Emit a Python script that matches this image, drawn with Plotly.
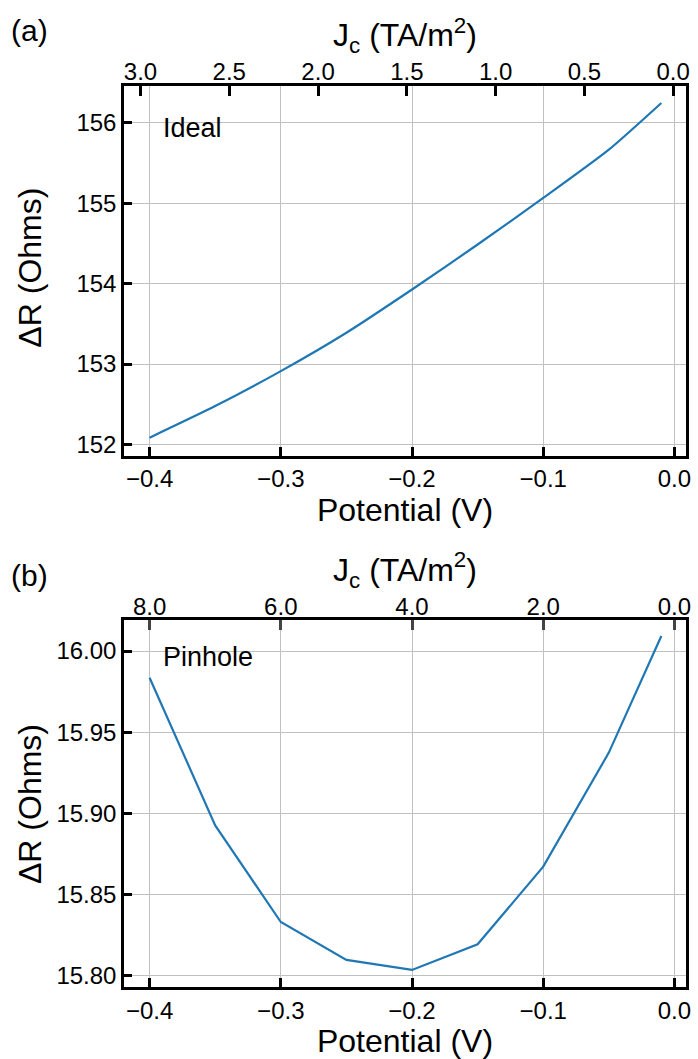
import plotly.graph_objects as go

# ---- data ----
potential = [-0.40, -0.35, -0.30, -0.25, -0.20, -0.15, -0.10, -0.05, -0.01]
dR_ideal = [152.083, 152.476, 152.911, 153.389, 153.927, 154.487, 155.067, 155.668, 156.249]
dR_pinhole = [15.9836, 15.8927, 15.8332, 15.8099, 15.8037, 15.8195, 15.8673, 15.9375, 16.0093]

x_ticks = [-0.4, -0.3, -0.2, -0.1, 0.0]
x_ticktext = ["\u22120.4", "\u22120.3", "\u22120.2", "\u22120.1", "0.0"]
jc_ticks_a = [3.0, 2.5, 2.0, 1.5, 1.0, 0.5, 0.0]
jc_ticks_b = [8.0, 6.0, 4.0, 2.0, 0.0]
y_ticks_a = [152, 153, 154, 155, 156]
y_ticks_b = [15.80, 15.85, 15.90, 15.95, 16.00]

FONT = "Liberation Sans, Arial, sans-serif"
LINE_COLOR = "#1f77b4"
GRID = "#c0c0c0"

fig = go.Figure()
fig.add_trace(go.Scatter(x=potential, y=dR_ideal, mode="lines",
                         line=dict(color=LINE_COLOR, width=2.2, shape="spline", smoothing=0.6),
                         xaxis="x", yaxis="y", showlegend=False))
fig.add_trace(go.Scatter(x=potential, y=dR_pinhole, mode="lines",
                         line=dict(color=LINE_COLOR, width=2.2),
                         xaxis="x3", yaxis="y2", showlegend=False))
# invisible traces to anchor the top (J_c) axes
fig.add_trace(go.Scatter(x=[jc_ticks_a[0], jc_ticks_a[-1]], y=[dR_ideal[0], dR_ideal[0]], mode="lines",
                         opacity=0, xaxis="x2", yaxis="y", showlegend=False, hoverinfo="skip"))
fig.add_trace(go.Scatter(x=[jc_ticks_b[0], jc_ticks_b[-1]], y=[dR_pinhole[0], dR_pinhole[0]], mode="lines",
                         opacity=0, xaxis="x4", yaxis="y2", showlegend=False, hoverinfo="skip"))

tickfont = dict(family=FONT, size=24, color="black")
titlefont = dict(family=FONT, size=32, color="black")

xrange = [-0.4195, 0.0088]

def bottom_axis(anchor):
    return dict(range=xrange, tickvals=x_ticks, ticktext=x_ticktext, ticks="inside",
                ticklen=9, tickwidth=2.5, tickcolor="black", showline=True, linewidth=2.5,
                linecolor="black", mirror=True, showgrid=True, gridcolor=GRID, gridwidth=1,
                zeroline=False, tickfont=tickfont, anchor=anchor,
                title=dict(text="Potential (V)", font=titlefont, standoff=6))

def top_axis(overlay, anchor, rng, vals, tcolor):
    return dict(range=rng, tickvals=vals, ticktext=["%.1f" % v for v in vals], side="top",
                overlaying=overlay, anchor=anchor, ticks="inside", ticklen=10, tickwidth=2.5,
                tickcolor=tcolor, showline=False, showgrid=False, zeroline=False,
                tickfont=tickfont,
                title=dict(text="J<sub>c</sub> (TA/m<sup>2</sup>)", font=titlefont, standoff=0))

def left_axis(domain, anchor, rng, vals, fmt):
    return dict(domain=domain, range=rng, tickvals=vals, ticktext=[fmt % v for v in vals],
                ticks="inside", ticklen=8, tickwidth=2.5, tickcolor="black", showline=True,
                linewidth=2.5, linecolor="black", mirror=True, showgrid=True, gridcolor=GRID,
                gridwidth=1, zeroline=False, tickfont=tickfont, anchor=anchor)

fig.update_layout(
    width=698, height=1059,
    margin=dict(l=124, r=7, t=86, b=71),
    paper_bgcolor="white", plot_bgcolor="white",
    font=dict(family=FONT, color="black"),
    xaxis=bottom_axis("y"),
    xaxis2=top_axis("x", "y", [3.093, -0.0725], jc_ticks_a, "black"),
    xaxis3=bottom_axis("y2"),
    xaxis4=top_axis("x3", "y2", [-20 * xrange[0], -20 * xrange[1]], jc_ticks_b, "#444444"),
    yaxis=left_axis([0.5898, 1.0], "x", [151.86, 156.46], y_ticks_a, "%d"),
    yaxis2=left_axis([0.0, 0.4069], "x3", [15.7932, 16.0189], y_ticks_b, "%.2f"),
    showlegend=False,
)

annotations = []
for text, px, py in [("(a)", 8, 30), ("(b)", 8, 576)]:
    annotations.append(dict(text=text, xref="paper", yref="paper",
                            x=(px - 124) / 567, y=1 - (py - 86) / 902,
                            xanchor="left", yanchor="middle", showarrow=False,
                            font=dict(family=FONT, size=30, color="black")))
# panel labels inside the plots
annotations.append(dict(text="Ideal", xref="paper", yref="paper",
                        x=(161 - 124) / 567, y=1 - (128 - 86) / 902, xanchor="left", yanchor="middle",
                        showarrow=False, font=dict(family=FONT, size=27, color="black")))
annotations.append(dict(text="Pinhole", xref="paper", yref="paper",
                        x=(161 - 124) / 567, y=1 - (658 - 86) / 902, xanchor="left", yanchor="middle",
                        showarrow=False, font=dict(family=FONT, size=27, color="black")))
# y titles
annotations.append(dict(text="\u0394R (Ohms)", xref="paper", yref="paper",
                        x=(29 - 124) / 567, y=1 - (268 - 86) / 902, xanchor="center", yanchor="middle",
                        textangle=-90, showarrow=False, font=titlefont))
annotations.append(dict(text="\u0394R (Ohms)", xref="paper", yref="paper",
                        x=(29 - 124) / 567, y=1 - (805 - 86) / 902, xanchor="center", yanchor="middle",
                        textangle=-90, showarrow=False, font=titlefont))
fig.update_layout(annotations=annotations)

fig.write_html("out.html", config={"displayModeBar": False})

# remove default page margin so the figure fits the window exactly
with open("out.html", "r", encoding="utf-8") as f:
    html = f.read()
html = html.replace("<head>", "<head><style>html,body{margin:0;padding:0;overflow:hidden;}</style>", 1)
with open("out.html", "w", encoding="utf-8") as f:
    f.write(html)
